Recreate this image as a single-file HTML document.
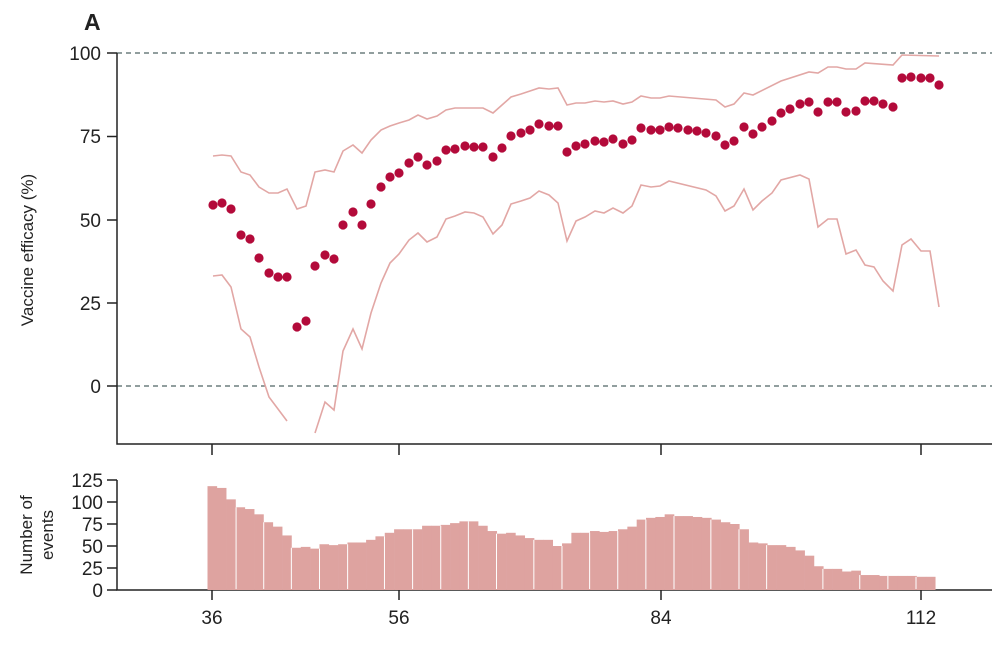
<!DOCTYPE html>
<html><head><meta charset="utf-8"><style>
body{margin:0;background:#fff;}
svg text{font-family:"Liberation Sans",sans-serif;fill:#222;}
</style></head><body>
<svg id="s" width="1005" height="647" viewBox="0 0 1005 647" xmlns="http://www.w3.org/2000/svg">
<text x="84" y="30" font-size="23" font-weight="bold">A</text>
<line x1="117" y1="53" x2="992" y2="53" stroke="#4f6565" stroke-width="1.3" stroke-dasharray="5,4"/>
<line x1="117" y1="386" x2="992" y2="386" stroke="#4f6565" stroke-width="1.3" stroke-dasharray="5,4"/>
<g stroke="#222" stroke-width="1.5" fill="none">
<path d="M117 53 V444 H992"/>
<path d="M107 53H117M107 136.5H117M107 220H117M107 303H117M107 386H117"/>
<path d="M212 444V455M399 444V455M661 444V455M921 444V455"/>
<path d="M117 480 V590 H992"/>
<path d="M107 480H117M107 502H117M107 524H117M107 546H117M107 568H117M107 590H117"/>
<path d="M212 590V600M399 590V600M661 590V600M921 590V600"/>
</g>
<g font-size="19" text-anchor="end">
<text x="101" y="60">100</text><text x="101" y="143">75</text><text x="101" y="227">50</text><text x="101" y="310">25</text><text x="101" y="393">0</text>
<text x="103" y="487">125</text><text x="103" y="509">100</text><text x="103" y="531">75</text><text x="103" y="553">50</text><text x="103" y="575">25</text><text x="103" y="597">0</text>
</g>
<g font-size="19" text-anchor="middle">
<text x="212" y="624">36</text><text x="399" y="624">56</text><text x="661" y="624">84</text><text x="921" y="624">112</text>
</g>
<text transform="translate(33,250) rotate(-90)" font-size="17" text-anchor="middle">Vaccine efficacy (%)</text>
<text transform="translate(32,535) rotate(-90)" font-size="17" text-anchor="middle">Number of</text>
<text transform="translate(53,535) rotate(-90)" font-size="17" text-anchor="middle">events</text>
<g id="bars" fill="#dea3a0"></g>
<g id="wl" stroke="#fff" stroke-width="1"></g>
<polyline fill="none" stroke="#e2a7a5" stroke-width="1.6" points="213,156 222,155 231,156 241,172 250,175 259,187 269,193 278,193 287,189 297,209 306,206 315,172 325,170 334,172 343,151 353,145 362,153 371,140 381,130 390,126 399,123 409,120 418,115 427,119 437,116 446,110 455,108 465,108 474,108 483,108 493,113 502,105 511,97 521,94 530,91 539,88 549,89 558,88 567,105 576,103 585,103 595,101 604,102 613,101 623,104 632,102 641,96 651,98 660,98 669,96 716,100 725,107 734,104 744,93 753,95 781,81 809,72 818,73 828,67 837,67 846,69 856,69 865,63 893,65 902,55 939,56"/>
<polyline fill="none" stroke="#e2a7a5" stroke-width="1.6" points="213,276 222,275 231,287 241,329 250,337 259,367 269,397 287,421"/>
<polyline fill="none" stroke="#e2a7a5" stroke-width="1.6" points="315,433 325,402 334,410 343,351 353,329 362,349 371,313 381,283 390,263 399,254 409,240 418,233 427,242 437,237 446,219 455,216 465,212 474,213 483,217 493,234 502,225 511,204 521,201 530,198 539,191 549,195 558,203 567,241 576,221 585,217 595,211 604,213 613,208 623,213 632,206 641,185 651,187 660,186 669,181 706,190 716,196 725,211 734,206 744,189 753,210 762,201 772,193 781,180 800,175 809,179 818,227 828,219 837,219 846,254 856,250 865,265 874,267 883,281 893,291 902,245 911,239 921,251 930,251 939,307"/>
<g id="dots" fill="#b30a3a"></g>
</svg>
<script>
var ns="http://www.w3.org/2000/svg";
var d=[[213,205],[222,203],[231,209],[241,235],[250,239],[259,258],[269,273],[278,277],[287,277],[297,327],[306,321],[315,266],[325,255],[334,259],[343,225],[353,212],[362,225],[371,204],[381,187],[390,177],[399,173],[409,163],[418,157],[427,165],[437,161],[446,150],[455,149],[465,146],[474,147],[483,147],[493,157],[502,148],[511,136],[521,133],[530,130],[539,124],[549,126],[558,126],[567,152],[576,146],[585,144],[595,141],[604,142],[613,139],[623,144],[632,140],[641,128],[651,130],[660,130],[669,127],[678,128],[688,130],[697,131],[706,133],[716,136],[725,145],[734,141],[744,127],[753,134],[762,127],[772,121],[781,113],[790,109],[800,104],[809,102],[818,112],[828,102],[837,102],[846,112],[856,111],[865,101],[874,101],[883,104],[893,107],[902,78],[911,77],[921,78],[930,78],[939,85]];
var g=document.getElementById("dots");
d.forEach(function(p){var c=document.createElementNS(ns,"circle");c.setAttribute("cx",p[0]);c.setAttribute("cy",p[1]);c.setAttribute("r",4.6);g.appendChild(c);});
var v=[118,116,103,94,92,86,77,72,62,48,49,47,52,51,52,54,54,57,61,65,69,69,69,73,73,74,76,78,78,73,67,64,65,62,59,57,57,50,53,65,65,67,66,67,69,72,80,82,83,86,84,84,83,82,80,77,75,69,54,53,51,51,49,45,39,27,24,24,21,22,17,17,16,16,16,16,15,15];
var b=document.getElementById("bars"),w=9.33,x0=207.5;
v.forEach(function(h,i){var r=document.createElementNS(ns,"rect");r.setAttribute("x",x0+i*w);r.setAttribute("width",w+0.3);r.setAttribute("y",590-h*0.88);r.setAttribute("height",h*0.88);b.appendChild(r);});
var wl=document.getElementById("wl");
[95,152,209,267,325,401,459,517,574,632,709,767,824,882,940,998,1074,1132,1189,1305,1381,1439,1497].forEach(function(z){var x=190+z/2.062;var i=Math.round((x-x0)/w);var h=v[Math.min(Math.max(i-1,0),77)];var h2=v[Math.min(i,77)];var top=590-Math.min(h,h2)*0.88;var l=document.createElementNS(ns,"line");l.setAttribute("x1",x);l.setAttribute("x2",x);l.setAttribute("y1",top);l.setAttribute("y2",589);wl.appendChild(l);});
</script>
</body></html>
